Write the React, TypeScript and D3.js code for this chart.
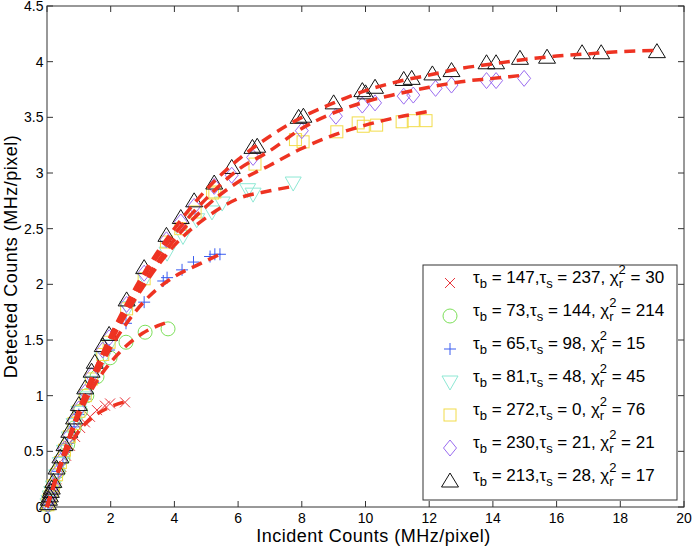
import React from "react";
import * as d3 from "d3";

const W = 692, H = 548;
const M = { left: 47, right: 684, top: 6, bottom: 507 };

const xTicks = [0, 2, 4, 6, 8, 10, 12, 14, 16, 18, 20];
const yTicks = [0, 0.5, 1, 1.5, 2, 2.5, 3, 3.5, 4, 4.5];

// Series data (Incident, Detected)
const crossX = [0.03, 0.1, 0.2, 0.3, 0.45, 0.6, 0.72, 0.88, 1.04, 1.19, 1.35, 1.57, 1.82, 1.98, 2.45];
const crossY = [0.02, 0.09, 0.17, 0.25, 0.36, 0.46, 0.55, 0.63, 0.71, 0.76, 0.81, 0.87, 0.91, 0.93, 0.94];

const circleX = [0.03, 0.1, 0.2, 0.35, 0.5, 0.65, 0.85, 1.05, 1.25, 1.57, 1.98, 2.48, 3.08, 3.8];
const circleY = [0.02, 0.1, 0.19, 0.32, 0.44, 0.56, 0.71, 0.86, 1.0, 1.17, 1.34, 1.48, 1.57, 1.6];

const plusX = [0.03, 0.1, 0.2, 0.35, 0.5, 0.65, 0.85, 1.0, 1.2, 1.45, 1.95, 2.48, 3.05, 3.65, 3.77, 4.24, 4.6, 5.12, 5.27, 5.43];
const plusY = [0.02, 0.09, 0.18, 0.32, 0.45, 0.57, 0.72, 0.83, 0.97, 1.12, 1.41, 1.65, 1.84, 2.03, 2.06, 2.13, 2.2, 2.25, 2.27, 2.27];

const invX = [0.03, 0.06, 0.1, 0.15, 0.2, 0.3, 0.42, 0.55, 0.7, 0.85, 1.0, 1.2, 1.4, 1.75, 1.95, 2.54, 3.08, 3.77, 4.27, 4.7, 5.18, 5.5, 6.3, 6.47, 7.73];
const invY = [0.02, 0.05, 0.09, 0.13, 0.18, 0.28, 0.39, 0.5, 0.62, 0.74, 0.85, 0.98, 1.12, 1.33, 1.45, 1.79, 2.05, 2.28, 2.43, 2.58, 2.65, 2.73, 2.85, 2.81, 2.91];

const squareX = [0.03, 0.06, 0.1, 0.15, 0.2, 0.3, 0.42, 0.55, 0.7, 0.85, 1.0, 1.2, 1.4, 1.75, 1.95, 2.5, 3.05, 3.75, 4.2, 4.65, 5.2, 5.27, 6.53, 7.8, 8.04, 9.1, 9.77, 9.93, 10.35, 11.15, 11.5, 11.9];
const squareY = [0.02, 0.06, 0.09, 0.14, 0.19, 0.29, 0.4, 0.51, 0.63, 0.75, 0.86, 1.0, 1.15, 1.37, 1.48, 1.78, 2.05, 2.38, 2.5, 2.65, 2.82, 2.83, 3.08, 3.3, 3.28, 3.37, 3.45, 3.42, 3.43, 3.46, 3.47, 3.47];

const diamondX = [0.03, 0.06, 0.1, 0.15, 0.2, 0.3, 0.42, 0.55, 0.7, 0.85, 1.0, 1.2, 1.4, 1.75, 1.95, 2.5, 3.05, 3.75, 4.2, 4.62, 5.25, 5.8, 6.47, 8.0, 9.07, 9.9, 10.3, 11.2, 11.5, 12.2, 12.7, 13.8, 14.1, 14.98];
const diamondY = [0.02, 0.06, 0.09, 0.14, 0.19, 0.3, 0.41, 0.52, 0.64, 0.77, 0.88, 1.03, 1.18, 1.41, 1.52, 1.82, 2.1, 2.4, 2.56, 2.7, 2.88, 2.98, 3.14, 3.38, 3.51, 3.61, 3.63, 3.69, 3.7, 3.76, 3.79, 3.83, 3.83, 3.85];

const triX = [0.03, 0.06, 0.09, 0.12, 0.15, 0.2, 0.3, 0.42, 0.55, 0.7, 0.85, 1.0, 1.2, 1.4, 1.5, 1.75, 1.95, 2.5, 3.05, 3.75, 4.2, 4.62, 5.25, 5.8, 6.45, 6.6, 7.9, 8.05, 9.0, 9.9, 10.0, 10.3, 11.2, 11.45, 12.1, 12.7, 13.8, 14.1, 14.85, 15.7, 16.8, 17.4, 19.15];
const triY = [0.03, 0.07, 0.1, 0.14, 0.17, 0.23, 0.35, 0.45, 0.56, 0.68, 0.8, 0.92, 1.07, 1.22, 1.3, 1.45, 1.55, 1.86, 2.15, 2.44, 2.6, 2.75, 2.91, 3.05, 3.23, 3.24, 3.5, 3.51, 3.63, 3.74, 3.72, 3.77, 3.84, 3.85, 3.89, 3.92, 3.99, 3.99, 4.03, 4.04, 4.08, 4.08, 4.09];

// Fit curves
const fitCrossX = [0, 0.5, 1, 1.5, 2, 2.5];
const fitCrossY = [0, 0.42, 0.68, 0.82, 0.9, 0.95];
const fitCircleX = [0, 0.5, 1, 1.5, 2, 2.5, 3, 3.8];
const fitCircleY = [0, 0.45, 0.82, 1.1, 1.3, 1.45, 1.56, 1.66];
const fitPlusX = [0, 1, 2, 3, 4, 4.7, 5.43];
const fitPlusY = [0, 0.84, 1.43, 1.83, 2.07, 2.17, 2.27];
const fitInvX = [0, 1, 2, 3, 4, 5, 6, 7, 7.73];
const fitInvY = [0, 0.86, 1.48, 1.97, 2.35, 2.6, 2.77, 2.84, 2.88];
const fitSquareX = [0, 1, 2, 3, 4, 5, 6, 7, 8, 9, 10, 11, 11.93];
const fitSquareY = [0, 0.87, 1.52, 2.0, 2.4, 2.7, 2.92, 3.07, 3.22, 3.34, 3.43, 3.5, 3.55];
const fitDiamondX = [0, 1, 2, 3, 4, 5, 6, 7, 8, 9, 10, 11, 12, 13, 14, 15];
const fitDiamondY = [0, 0.87, 1.53, 2.05, 2.45, 2.77, 3.03, 3.2, 3.4, 3.54, 3.64, 3.71, 3.77, 3.82, 3.85, 3.88];
const fitTriX = [0, 1, 2, 3, 4, 5, 6, 7, 8, 9, 10, 11, 12, 13, 14, 15, 16, 17, 18, 19.15];
const fitTriY = [0, 0.87, 1.54, 2.08, 2.5, 2.85, 3.12, 3.33, 3.5, 3.63, 3.74, 3.82, 3.88, 3.94, 3.98, 4.02, 4.05, 4.07, 4.09, 4.1];

const legendTauB = ["147", "73", "65", "81", "272", "230", "213"];
const legendTauS = ["237", "144", "98", "48", "0", "21", "28"];
const legendChi = ["30", "214", "15", "45", "76", "21", "17"];

type Kind = "x" | "o" | "+" | "v" | "s" | "d" | "^";
const series: { kind: Kind; color: string; xs: number[]; ys: number[] }[] = [
  { kind: "x", color: "#e8333a", xs: crossX, ys: crossY },
  { kind: "o", color: "#7de05a", xs: circleX, ys: circleY },
  { kind: "+", color: "#3a5cf0", xs: plusX, ys: plusY },
  { kind: "v", color: "#8ee8d4", xs: invX, ys: invY },
  { kind: "s", color: "#f2dc4a", xs: squareX, ys: squareY },
  { kind: "d", color: "#9a6cf0", xs: diamondX, ys: diamondY },
  { kind: "^", color: "#111111", xs: triX, ys: triY },
];
const fits = [
  [fitCrossX, fitCrossY],
  [fitCircleX, fitCircleY],
  [fitPlusX, fitPlusY],
  [fitInvX, fitInvY],
  [fitSquareX, fitSquareY],
  [fitDiamondX, fitDiamondY],
  [fitTriX, fitTriY],
];

function Marker({ kind, color, x, y }: { kind: Kind; color: string; x: number; y: number }) {
  const common = { fill: "none", stroke: color, strokeWidth: 1 };
  switch (kind) {
    case "x":
      return <path d={`M${x - 5},${y - 5}L${x + 5},${y + 5}M${x - 5},${y + 5}L${x + 5},${y - 5}`} {...common} />;
    case "+":
      return <path d={`M${x - 6},${y}L${x + 6},${y}M${x},${y - 6}L${x},${y + 6}`} {...common} />;
    case "o":
      return <circle cx={x} cy={y} r={7} {...common} />;
    case "s":
      return <rect x={x - 6} y={y - 6} width={12} height={12} {...common} />;
    case "d":
      return <path d={`M${x},${y - 8}L${x + 6.5},${y}L${x},${y + 8}L${x - 6.5},${y}Z`} {...common} />;
    case "^":
      return <path d={`M${x},${y - 8}L${x + 8.5},${y + 6}L${x - 8.5},${y + 6}Z`} {...common} />;
    case "v":
      return <path d={`M${x},${y + 8}L${x + 8},${y - 6}L${x - 8},${y - 6}Z`} {...common} />;
  }
}

export default function App() {
  const x = d3.scaleLinear().domain([0, 20]).range([M.left, M.right]);
  const y = d3.scaleLinear().domain([0, 4.5]).range([M.bottom, M.top]);
  const line = d3
    .line<[number, number]>()
    .x((d) => x(d[0]))
    .y((d) => y(d[1]))
    .curve(d3.curveMonotoneX);
  const font = "'Liberation Sans', Arial, Helvetica, sans-serif";
  const lgX = 423, lgY = 265, lgW = 254, lgH = 235;

  return (
    <svg width={W} height={H} style={{ position: "absolute", left: 0, top: 0, background: "#fff" }} fontFamily={font}>
      <rect x={0} y={0} width={W} height={H} fill="#fff" />
      {/* frame */}
      <rect x={M.left} y={M.top} width={M.right - M.left} height={M.bottom - M.top} fill="none" stroke="#333" strokeWidth={1} />
      {xTicks.map((t) => (
        <g key={"xt" + t}>
          <line x1={x(t)} x2={x(t)} y1={M.bottom} y2={M.bottom - 6} stroke="#333" />
          <line x1={x(t)} x2={x(t)} y1={M.top} y2={M.top + 6} stroke="#333" />
          <text x={x(t)} y={M.bottom + 16} textAnchor="middle" fontSize={14} fill="#000">
            {t}
          </text>
        </g>
      ))}
      {yTicks.map((t) => (
        <g key={"yt" + t}>
          <line x1={M.left} x2={M.left + 6} y1={y(t)} y2={y(t)} stroke="#333" />
          <line x1={M.right} x2={M.right - 6} y1={y(t)} y2={y(t)} stroke="#333" />
          <text x={M.left - 3.5} y={y(t) + 5} textAnchor="end" fontSize={14} fill="#000">
            {t}
          </text>
        </g>
      ))}
      <text x={(M.left + M.right) / 2 + 8} y={542} textAnchor="middle" fontSize={18} letterSpacing={0.5}>
        Incident Counts (MHz/pixel)
      </text>
      <text transform={`translate(17,${(M.top + M.bottom) / 2}) rotate(-90)`} textAnchor="middle" fontSize={18} letterSpacing={0.5}>
        Detected Counts (MHz/pixel)
      </text>

      {/* markers */}
      {series.map((s, i) => (
        <g key={"s" + i}>
          {s.xs.map((xv, j) => (
            <Marker key={j} kind={s.kind} color={s.color} x={x(xv)} y={y(s.ys[j])} />
          ))}
        </g>
      ))}
      {/* fits */}
      {fits.map((f, i) => (
        <path
          key={"f" + i}
          d={line(f[0].map((xv, j) => [xv, f[1][j]] as [number, number])) || ""}
          fill="none"
          stroke="#ee3322"
          strokeWidth={3.5}
          strokeDasharray="11,7"
        />
      ))}

      {/* legend */}
      <rect x={lgX} y={lgY} width={lgW} height={lgH} fill="#fff" stroke="#333" strokeWidth={1} />
      {series.map((s, i) => {
        const cy = 283 + i * 33;
        return (
          <g key={"lg" + i}>
            <Marker kind={s.kind} color={s.color} x={450} y={cy} />
            <text x={473} y={cy} fontSize={17} fill="#000">
              τ<tspan fontSize={13} dy={5}>b</tspan>
              <tspan dy={-5}>{` = ${legendTauB[i]},τ`}</tspan>
              <tspan fontSize={13} dy={5}>s</tspan>
              <tspan dy={-5}>{` = ${legendTauS[i]}, χ`}</tspan>
              <tspan fontSize={13} dy={5}>r</tspan>
              <tspan fontSize={13} dx={-4.5} dy={-14}>2</tspan>
              <tspan dy={9}>{` = ${legendChi[i]}`}</tspan>
            </text>
          </g>
        );
      })}
    </svg>
  );
}
